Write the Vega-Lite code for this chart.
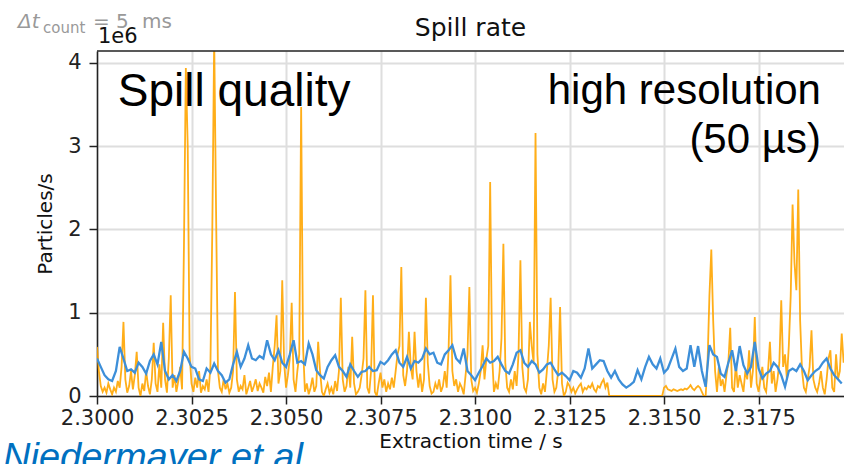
{
"$schema":"https://vega.github.io/schema/vega-lite/v6.json",
"width":747,"height":345,
"autosize":{"type":"none"},
"padding":{"left":97,"top":51,"right":0,"bottom":68},
"background":"white",
"config":{"view":{"stroke":null},"font":"DejaVu Sans","axis":{"labelFont":"DejaVu Sans","titleFont":"DejaVu Sans"}},
"datasets":{
"orange":[
{"t":2.30000,"v":0.59},{"t":2.30005,"v":0.3},{"t":2.30010,"v":0.12},{"t":2.30015,"v":0.05},{"t":2.30020,"v":0.1},{"t":2.30025,"v":0.04},{"t":2.30030,"v":0.15},{"t":2.30035,"v":0.08},{"t":2.30040,"v":0.02},{"t":2.30045,"v":0.1},
{"t":2.30050,"v":0.05},{"t":2.30055,"v":0.18},{"t":2.30060,"v":0.1},{"t":2.30065,"v":0.35},{"t":2.30070,"v":0.89},{"t":2.30075,"v":0.2},{"t":2.30080,"v":0.04},{"t":2.30085,"v":0.12},{"t":2.30090,"v":0.3},{"t":2.30095,"v":0.08},
{"t":2.30100,"v":0.25},{"t":2.30105,"v":0.53},{"t":2.30110,"v":0.1},{"t":2.30115,"v":0.0},{"t":2.30120,"v":0.15},{"t":2.30125,"v":0.06},{"t":2.30130,"v":0.3},{"t":2.30135,"v":0.12},{"t":2.30140,"v":0.02},{"t":2.30145,"v":0.2},
{"t":2.30150,"v":0.64},{"t":2.30155,"v":0.15},{"t":2.30160,"v":0.05},{"t":2.30165,"v":0.38},{"t":2.30170,"v":0.1},{"t":2.30175,"v":0.88},{"t":2.30180,"v":0.2},{"t":2.30185,"v":0.04},{"t":2.30190,"v":0.45},{"t":2.30195,"v":1.21},
{"t":2.30200,"v":0.1},{"t":2.30205,"v":0.25},{"t":2.30210,"v":0.05},{"t":2.30215,"v":0.18},{"t":2.30220,"v":0.35},{"t":2.30225,"v":0.08},{"t":2.30230,"v":1.8},{"t":2.30235,"v":3.94},{"t":2.30240,"v":3.0},{"t":2.30245,"v":0.5},
{"t":2.30250,"v":0.15},{"t":2.30255,"v":0.05},{"t":2.30260,"v":0.22},{"t":2.30265,"v":0.1},{"t":2.30270,"v":0.3},{"t":2.30275,"v":0.04},{"t":2.30280,"v":0.12},{"t":2.30285,"v":0.08},{"t":2.30290,"v":0.2},{"t":2.30295,"v":0.05},
{"t":2.30300,"v":0.35},{"t":2.30305,"v":2.0},{"t":2.30310,"v":4.3},{"t":2.30315,"v":2.2},{"t":2.30320,"v":0.3},{"t":2.30325,"v":0.1},{"t":2.30330,"v":0.05},{"t":2.30335,"v":0.2},{"t":2.30340,"v":0.08},{"t":2.30345,"v":0.15},
{"t":2.30350,"v":0.04},{"t":2.30355,"v":0.1},{"t":2.30360,"v":0.3},{"t":2.30365,"v":1.25},{"t":2.30370,"v":0.2},{"t":2.30375,"v":0.05},{"t":2.30380,"v":0.12},{"t":2.30385,"v":0.08},{"t":2.30390,"v":0.25},{"t":2.30395,"v":0.02},
{"t":2.30400,"v":0.1},{"t":2.30405,"v":0.18},{"t":2.30410,"v":0.05},{"t":2.30415,"v":0.12},{"t":2.30420,"v":0.2},{"t":2.30425,"v":0.06},{"t":2.30430,"v":0.15},{"t":2.30435,"v":0.1},{"t":2.30440,"v":0.04},{"t":2.30445,"v":0.23},
{"t":2.30450,"v":0.12},{"t":2.30455,"v":0.28},{"t":2.30460,"v":0.05},{"t":2.30465,"v":0.35},{"t":2.30470,"v":0.6},{"t":2.30475,"v":0.97},{"t":2.30480,"v":0.15},{"t":2.30485,"v":0.3},{"t":2.30490,"v":1.39},{"t":2.30495,"v":0.4},
{"t":2.30500,"v":0.1},{"t":2.30505,"v":0.25},{"t":2.30510,"v":0.45},{"t":2.30515,"v":1.12},{"t":2.30520,"v":0.2},{"t":2.30525,"v":0.05},{"t":2.30530,"v":0.3},{"t":2.30535,"v":0.5},{"t":2.30540,"v":3.47},{"t":2.30545,"v":0.6},
{"t":2.30550,"v":0.05},{"t":2.30555,"v":0.15},{"t":2.30560,"v":0.02},{"t":2.30565,"v":0.1},{"t":2.30570,"v":0.22},{"t":2.30575,"v":0.05},{"t":2.30580,"v":0.12},{"t":2.30585,"v":0.65},{"t":2.30590,"v":0.3},{"t":2.30595,"v":0.05},
{"t":2.30600,"v":0.0},{"t":2.30605,"v":0.08},{"t":2.30610,"v":0.15},{"t":2.30615,"v":0.04},{"t":2.30620,"v":0.1},{"t":2.30625,"v":0.02},{"t":2.30630,"v":0.18},{"t":2.30635,"v":0.06},{"t":2.30640,"v":0.3},{"t":2.30645,"v":1.18},
{"t":2.30650,"v":0.2},{"t":2.30655,"v":0.05},{"t":2.30660,"v":0.12},{"t":2.30665,"v":0.35},{"t":2.30670,"v":0.1},{"t":2.30675,"v":0.71},{"t":2.30680,"v":0.15},{"t":2.30685,"v":0.02},{"t":2.30690,"v":0.05},{"t":2.30695,"v":0.1},
{"t":2.30700,"v":0.25},{"t":2.30705,"v":0.45},{"t":2.30710,"v":1.27},{"t":2.30715,"v":0.1},{"t":2.30720,"v":0.03},{"t":2.30725,"v":0.3},{"t":2.30730,"v":1.21},{"t":2.30735,"v":0.05},{"t":2.30740,"v":0.0},{"t":2.30745,"v":0.15},
{"t":2.30750,"v":0.28},{"t":2.30755,"v":0.1},{"t":2.30760,"v":0.2},{"t":2.30765,"v":0.05},{"t":2.30770,"v":0.15},{"t":2.30775,"v":0.08},{"t":2.30780,"v":0.22},{"t":2.30785,"v":0.1},{"t":2.30790,"v":0.3},{"t":2.30795,"v":0.5},
{"t":2.30800,"v":0.6},{"t":2.30805,"v":1.55},{"t":2.30810,"v":0.25},{"t":2.30815,"v":0.12},{"t":2.30820,"v":0.3},{"t":2.30825,"v":0.77},{"t":2.30830,"v":0.35},{"t":2.30835,"v":0.2},{"t":2.30840,"v":0.77},{"t":2.30845,"v":0.3},
{"t":2.30850,"v":0.1},{"t":2.30855,"v":0.27},{"t":2.30860,"v":0.05},{"t":2.30865,"v":0.2},{"t":2.30870,"v":1.18},{"t":2.30875,"v":0.4},{"t":2.30880,"v":0.12},{"t":2.30885,"v":0.03},{"t":2.30890,"v":0.05},{"t":2.30895,"v":0.15},
{"t":2.30900,"v":0.08},{"t":2.30905,"v":0.2},{"t":2.30910,"v":0.05},{"t":2.30915,"v":0.12},{"t":2.30920,"v":0.3},{"t":2.30925,"v":0.1},{"t":2.30930,"v":0.55},{"t":2.30935,"v":1.45},{"t":2.30940,"v":0.3},{"t":2.30945,"v":0.12},
{"t":2.30950,"v":0.2},{"t":2.30955,"v":0.05},{"t":2.30960,"v":0.15},{"t":2.30965,"v":0.1},{"t":2.30970,"v":0.02},{"t":2.30975,"v":0.25},{"t":2.30980,"v":0.5},{"t":2.30985,"v":1.31},{"t":2.30990,"v":0.2},{"t":2.30995,"v":0.06},
{"t":2.31000,"v":0.1},{"t":2.31005,"v":0.04},{"t":2.31010,"v":0.15},{"t":2.31015,"v":0.3},{"t":2.31020,"v":0.61},{"t":2.31025,"v":0.2},{"t":2.31030,"v":0.45},{"t":2.31035,"v":0.6},{"t":2.31040,"v":2.57},{"t":2.31045,"v":0.5},
{"t":2.31050,"v":0.05},{"t":2.31055,"v":0.15},{"t":2.31060,"v":0.08},{"t":2.31065,"v":0.3},{"t":2.31070,"v":0.7},{"t":2.31075,"v":1.83},{"t":2.31080,"v":0.4},{"t":2.31085,"v":0.1},{"t":2.31090,"v":0.05},{"t":2.31095,"v":0.2},
{"t":2.31100,"v":0.08},{"t":2.31105,"v":0.3},{"t":2.31110,"v":0.12},{"t":2.31115,"v":0.5},{"t":2.31120,"v":1.63},{"t":2.31125,"v":0.35},{"t":2.31130,"v":0.1},{"t":2.31135,"v":0.05},{"t":2.31140,"v":0.2},{"t":2.31145,"v":0.89},
{"t":2.31150,"v":0.6},{"t":2.31155,"v":0.4},{"t":2.31160,"v":3.16},{"t":2.31165,"v":0.5},{"t":2.31170,"v":0.1},{"t":2.31175,"v":0.02},{"t":2.31180,"v":0.15},{"t":2.31185,"v":0.05},{"t":2.31190,"v":0.3},{"t":2.31195,"v":0.6},
{"t":2.31200,"v":1.18},{"t":2.31205,"v":0.2},{"t":2.31210,"v":0.05},{"t":2.31215,"v":0.1},{"t":2.31220,"v":0.3},{"t":2.31225,"v":1.07},{"t":2.31230,"v":0.15},{"t":2.31235,"v":0.0},{"t":2.31240,"v":0.05},{"t":2.31245,"v":0.16},
{"t":2.31250,"v":0.12},{"t":2.31255,"v":0.05},{"t":2.31260,"v":0.1},{"t":2.31265,"v":0.03},{"t":2.31270,"v":0.08},{"t":2.31275,"v":0.12},{"t":2.31280,"v":0.15},{"t":2.31285,"v":0.05},{"t":2.31290,"v":0.1},{"t":2.31295,"v":0.08},
{"t":2.31300,"v":0.12},{"t":2.31305,"v":0.1},{"t":2.31310,"v":0.15},{"t":2.31315,"v":0.08},{"t":2.31320,"v":0.05},{"t":2.31325,"v":0.12},{"t":2.31330,"v":0.1},{"t":2.31335,"v":0.16},{"t":2.31340,"v":0.2},{"t":2.31345,"v":0.1},
{"t":2.31350,"v":0.16},{"t":2.31355,"v":0},{"t":2.31360,"v":0},{"t":2.31365,"v":0},{"t":2.31370,"v":0},{"t":2.31375,"v":0},{"t":2.31380,"v":0},{"t":2.31385,"v":0},{"t":2.31390,"v":0},{"t":2.31395,"v":0},
{"t":2.31400,"v":0},{"t":2.31405,"v":0},{"t":2.31410,"v":0},{"t":2.31415,"v":0},{"t":2.31420,"v":0},{"t":2.31425,"v":0},{"t":2.31430,"v":0},{"t":2.31435,"v":0},{"t":2.31440,"v":0},{"t":2.31445,"v":0},
{"t":2.31450,"v":0},{"t":2.31455,"v":0},{"t":2.31460,"v":0},{"t":2.31465,"v":0},{"t":2.31470,"v":0},{"t":2.31475,"v":0},{"t":2.31480,"v":0},{"t":2.31485,"v":0},{"t":2.31490,"v":0},{"t":2.31495,"v":0},
{"t":2.31500,"v":0.1},{"t":2.31505,"v":0.12},{"t":2.31510,"v":0.08},{"t":2.31515,"v":0.07},{"t":2.31520,"v":0.06},{"t":2.31525,"v":0.08},{"t":2.31530,"v":0.07},{"t":2.31535,"v":0.06},{"t":2.31540,"v":0.07},{"t":2.31545,"v":0.08},
{"t":2.31550,"v":0.07},{"t":2.31555,"v":0.09},{"t":2.31560,"v":0.08},{"t":2.31565,"v":0.1},{"t":2.31570,"v":0.13},{"t":2.31575,"v":0.09},{"t":2.31580,"v":0.07},{"t":2.31585,"v":0.1},{"t":2.31590,"v":0.12},{"t":2.31595,"v":0.1},
{"t":2.31600,"v":0.05},{"t":2.31605,"v":0},{"t":2.31610,"v":0},{"t":2.31615,"v":0.4},{"t":2.31620,"v":1.2},{"t":2.31625,"v":1.76},{"t":2.31630,"v":0.9},{"t":2.31635,"v":0.3},{"t":2.31640,"v":0.05},{"t":2.31645,"v":0.35},
{"t":2.31650,"v":0.12},{"t":2.31655,"v":0.2},{"t":2.31660,"v":0.05},{"t":2.31665,"v":0.25},{"t":2.31670,"v":0.4},{"t":2.31675,"v":0.82},{"t":2.31680,"v":0.1},{"t":2.31685,"v":0.05},{"t":2.31690,"v":0.39},{"t":2.31695,"v":0.1},
{"t":2.31700,"v":0.25},{"t":2.31705,"v":0.15},{"t":2.31710,"v":0.05},{"t":2.31715,"v":0.3},{"t":2.31720,"v":0.2},{"t":2.31725,"v":0.55},{"t":2.31730,"v":0.1},{"t":2.31735,"v":0.3},{"t":2.31740,"v":0.95},{"t":2.31745,"v":0.15},
{"t":2.31750,"v":0.05},{"t":2.31755,"v":0.2},{"t":2.31760,"v":0.35},{"t":2.31765,"v":0.1},{"t":2.31770,"v":0.05},{"t":2.31775,"v":0.3},{"t":2.31780,"v":0.65},{"t":2.31785,"v":0.15},{"t":2.31790,"v":0.3},{"t":2.31795,"v":0.05},
{"t":2.31800,"v":0.2},{"t":2.31805,"v":0.4},{"t":2.31810,"v":1.15},{"t":2.31815,"v":0.35},{"t":2.31820,"v":0.5},{"t":2.31825,"v":0.2},{"t":2.31830,"v":0.6},{"t":2.31835,"v":1.2},{"t":2.31840,"v":2.3},{"t":2.31845,"v":1.6},
{"t":2.31850,"v":1.27},{"t":2.31855,"v":2.48},{"t":2.31860,"v":0.9},{"t":2.31865,"v":0.3},{"t":2.31870,"v":0.1},{"t":2.31875,"v":0.05},{"t":2.31880,"v":0.2},{"t":2.31885,"v":0.35},{"t":2.31890,"v":0.79},{"t":2.31895,"v":0.2},
{"t":2.31900,"v":0.1},{"t":2.31905,"v":0.05},{"t":2.31910,"v":0.15},{"t":2.31915,"v":0.3},{"t":2.31920,"v":0.1},{"t":2.31925,"v":0.02},{"t":2.31930,"v":0.2},{"t":2.31935,"v":0.45},{"t":2.31940,"v":0.55},{"t":2.31945,"v":0.1},
{"t":2.31950,"v":0.05},{"t":2.31955,"v":0.5},{"t":2.31960,"v":0.2},{"t":2.31965,"v":0.3},{"t":2.31970,"v":0.75},{"t":2.31975,"v":0.4}
],
"blue":[
{"t":2.3000,"v":0.45},{"t":2.3001,"v":0.35},{"t":2.3002,"v":0.25},{"t":2.3003,"v":0.2},{"t":2.3004,"v":0.18},{"t":2.3005,"v":0.3},{"t":2.3006,"v":0.59},{"t":2.3007,"v":0.45},{"t":2.3008,"v":0.3},{"t":2.3009,"v":0.32},
{"t":2.3010,"v":0.28},{"t":2.3011,"v":0.4},{"t":2.3012,"v":0.35},{"t":2.3013,"v":0.27},{"t":2.3014,"v":0.42},{"t":2.3015,"v":0.5},{"t":2.3016,"v":0.38},{"t":2.3017,"v":0.65},{"t":2.3018,"v":0.3},{"t":2.3019,"v":0.2},
{"t":2.3020,"v":0.25},{"t":2.3021,"v":0.18},{"t":2.3022,"v":0.3},{"t":2.3023,"v":0.53},{"t":2.3024,"v":0.45},{"t":2.3025,"v":0.35},{"t":2.3026,"v":0.33},{"t":2.3027,"v":0.2},{"t":2.3028,"v":0.18},{"t":2.3029,"v":0.33},
{"t":2.3030,"v":0.28},{"t":2.3031,"v":0.39},{"t":2.3032,"v":0.3},{"t":2.3033,"v":0.25},{"t":2.3034,"v":0.16},{"t":2.3035,"v":0.2},{"t":2.3036,"v":0.38},{"t":2.3037,"v":0.53},{"t":2.3038,"v":0.35},{"t":2.3039,"v":0.45},
{"t":2.3040,"v":0.61},{"t":2.3041,"v":0.45},{"t":2.3042,"v":0.43},{"t":2.3043,"v":0.48},{"t":2.3044,"v":0.45},{"t":2.3045,"v":0.67},{"t":2.3046,"v":0.5},{"t":2.3047,"v":0.43},{"t":2.3048,"v":0.55},{"t":2.3049,"v":0.4},
{"t":2.3050,"v":0.35},{"t":2.3051,"v":0.5},{"t":2.3052,"v":0.67},{"t":2.3053,"v":0.4},{"t":2.3054,"v":0.42},{"t":2.3055,"v":0.38},{"t":2.3056,"v":0.63},{"t":2.3057,"v":0.5},{"t":2.3058,"v":0.31},{"t":2.3059,"v":0.25},
{"t":2.3060,"v":0.21},{"t":2.3061,"v":0.35},{"t":2.3062,"v":0.43},{"t":2.3063,"v":0.49},{"t":2.3064,"v":0.35},{"t":2.3065,"v":0.3},{"t":2.3066,"v":0.23},{"t":2.3067,"v":0.38},{"t":2.3068,"v":0.3},{"t":2.3069,"v":0.23},
{"t":2.3070,"v":0.29},{"t":2.3071,"v":0.3},{"t":2.3072,"v":0.35},{"t":2.3073,"v":0.3},{"t":2.3074,"v":0.31},{"t":2.3075,"v":0.41},{"t":2.3076,"v":0.38},{"t":2.3077,"v":0.43},{"t":2.3078,"v":0.5},{"t":2.3079,"v":0.55},
{"t":2.3080,"v":0.4},{"t":2.3081,"v":0.35},{"t":2.3082,"v":0.47},{"t":2.3083,"v":0.33},{"t":2.3084,"v":0.42},{"t":2.3085,"v":0.4},{"t":2.3086,"v":0.45},{"t":2.3087,"v":0.57},{"t":2.3088,"v":0.5},{"t":2.3089,"v":0.52},
{"t":2.3090,"v":0.4},{"t":2.3091,"v":0.38},{"t":2.3092,"v":0.5},{"t":2.3093,"v":0.55},{"t":2.3094,"v":0.61},{"t":2.3095,"v":0.45},{"t":2.3096,"v":0.4},{"t":2.3097,"v":0.57},{"t":2.3098,"v":0.3},{"t":2.3099,"v":0.25},
{"t":2.3100,"v":0.19},{"t":2.3101,"v":0.28},{"t":2.3102,"v":0.36},{"t":2.3103,"v":0.45},{"t":2.3104,"v":0.4},{"t":2.3105,"v":0.42},{"t":2.3106,"v":0.47},{"t":2.3107,"v":0.38},{"t":2.3108,"v":0.3},{"t":2.3109,"v":0.27},
{"t":2.3110,"v":0.38},{"t":2.3111,"v":0.52},{"t":2.3112,"v":0.55},{"t":2.3113,"v":0.4},{"t":2.3114,"v":0.35},{"t":2.3115,"v":0.42},{"t":2.3116,"v":0.38},{"t":2.3117,"v":0.28},{"t":2.3118,"v":0.32},{"t":2.3119,"v":0.38},
{"t":2.3120,"v":0.4},{"t":2.3121,"v":0.32},{"t":2.3122,"v":0.25},{"t":2.3123,"v":0.28},{"t":2.3124,"v":0.24},{"t":2.3125,"v":0.19},{"t":2.3126,"v":0.3},{"t":2.3127,"v":0.28},{"t":2.3128,"v":0.22},{"t":2.3129,"v":0.33},
{"t":2.3130,"v":0.57},{"t":2.3131,"v":0.33},{"t":2.3132,"v":0.38},{"t":2.3133,"v":0.43},{"t":2.3134,"v":0.42},{"t":2.3135,"v":0.3},{"t":2.3136,"v":0.22},{"t":2.3137,"v":0.3},{"t":2.3138,"v":0.2},{"t":2.3139,"v":0.14},
{"t":2.3140,"v":0.1},{"t":2.3141,"v":0.13},{"t":2.3142,"v":0.17},{"t":2.3143,"v":0.31},{"t":2.3144,"v":0.2},{"t":2.3145,"v":0.35},{"t":2.3146,"v":0.47},{"t":2.3147,"v":0.38},{"t":2.3148,"v":0.33},{"t":2.3149,"v":0.45},
{"t":2.3150,"v":0.28},{"t":2.3151,"v":0.33},{"t":2.3152,"v":0.45},{"t":2.3153,"v":0.57},{"t":2.3154,"v":0.35},{"t":2.3155,"v":0.3},{"t":2.3156,"v":0.33},{"t":2.3157,"v":0.61},{"t":2.3158,"v":0.35},{"t":2.3159,"v":0.6},
{"t":2.3160,"v":0.3},{"t":2.3161,"v":0.11},{"t":2.3162,"v":0.61},{"t":2.3163,"v":0.5},{"t":2.3164,"v":0.47},{"t":2.3165,"v":0.27},{"t":2.3166,"v":0.23},{"t":2.3167,"v":0.4},{"t":2.3168,"v":0.55},{"t":2.3169,"v":0.3},
{"t":2.3170,"v":0.6},{"t":2.3171,"v":0.37},{"t":2.3172,"v":0.27},{"t":2.3173,"v":0.35},{"t":2.3174,"v":0.65},{"t":2.3175,"v":0.33},{"t":2.3176,"v":0.21},{"t":2.3177,"v":0.27},{"t":2.3178,"v":0.3},{"t":2.3179,"v":0.4},
{"t":2.3180,"v":0.35},{"t":2.3181,"v":0.25},{"t":2.3182,"v":0.11},{"t":2.3183,"v":0.3},{"t":2.3184,"v":0.33},{"t":2.3185,"v":0.3},{"t":2.3186,"v":0.38},{"t":2.3187,"v":0.3},{"t":2.3188,"v":0.19},{"t":2.3189,"v":0.25},
{"t":2.3190,"v":0.3},{"t":2.3191,"v":0.33},{"t":2.3192,"v":0.4},{"t":2.3193,"v":0.45},{"t":2.3194,"v":0.33},{"t":2.3195,"v":0.25},{"t":2.3196,"v":0.2},{"t":2.3197,"v":0.15}
]},
"layer":[
{"data":{"name":"orange"},
 "mark":{"type":"line","color":"#ffa500","strokeWidth":1.8,"opacity":0.9,"clip":true},
 "encoding":{
  "x":{"field":"t","type":"quantitative","scale":{"domain":[2.3,2.31976],"nice":false,"zero":false},
   "axis":{"values":[2.3,2.3025,2.305,2.3075,2.31,2.3125,2.315,2.3175],"format":".4f","title":"Extraction time / s","titleFontSize":20,"titleFontWeight":"normal","titleColor":"#111","titlePadding":3,"labelFontSize":21,"labelColor":"#222","labelPadding":3,"labelFlush":false,"labelOverlap":false,"tickSize":8,"tickWidth":1.5,"tickColor":"#222","domainColor":"#222","domainWidth":1.5,"grid":true,"gridColor":"#dedede","gridWidth":2}},
  "y":{"field":"v","type":"quantitative","scale":{"domain":[0,4.144],"nice":false},
   "axis":{"values":[0,1,2,3,4],"format":"d","title":"Particles/s","titleFontSize":20,"titleFontWeight":"normal","titleColor":"#111","titlePadding":12,"labelFontSize":21,"labelColor":"#222","labelPadding":8,"tickSize":8,"tickWidth":1.5,"tickColor":"#222","domainColor":"#222","domainWidth":1.5,"grid":true,"gridColor":"#dedede","gridWidth":2}}}},
{"data":{"name":"blue"},
 "mark":{"type":"line","color":"#3d8fd9","strokeWidth":2.3,"clip":true},
 "encoding":{"x":{"field":"t","type":"quantitative"},"y":{"field":"v","type":"quantitative"}}},
{"data":{"values":[{}]},"mark":{"type":"rule","color":"#222","strokeWidth":1.5},"encoding":{"y":{"datum":4.144,"type":"quantitative"}}},
{"data":{"values":[{}]},"mark":{"type":"text","text":"Spill rate","font":"DejaVu Sans","fontSize":25,"align":"center","baseline":"alphabetic","color":"#111","dy":-15},"encoding":{"x":{"datum":2.30988,"type":"quantitative"},"y":{"datum":4.144,"type":"quantitative"}}},
{"data":{"values":[{}]},"mark":{"type":"text","text":"Spill quality","font":"Liberation Sans","fontSize":46,"align":"left","baseline":"alphabetic","color":"#000"},"encoding":{"x":{"datum":2.30055,"type":"quantitative"},"y":{"datum":3.48,"type":"quantitative"}}},
{"data":{"values":[{}]},"mark":{"type":"text","text":"high resolution","font":"Liberation Sans","fontSize":42,"align":"right","baseline":"alphabetic","color":"#000"},"encoding":{"x":{"datum":2.31915,"type":"quantitative"},"y":{"datum":3.51,"type":"quantitative"}}},
{"data":{"values":[{}]},"mark":{"type":"text","text":"(50 µs)","font":"Liberation Sans","fontSize":42,"align":"right","baseline":"alphabetic","color":"#000"},"encoding":{"x":{"datum":2.31915,"type":"quantitative"},"y":{"datum":2.92,"type":"quantitative"}}},
{"data":{"values":[{}]},"mark":{"type":"text","text":"1e6","font":"DejaVu Sans","fontSize":21,"align":"left","baseline":"alphabetic","color":"#111","dx":1,"dy":-8},"encoding":{"x":{"datum":2.3,"type":"quantitative"},"y":{"datum":4.144,"type":"quantitative"}}},
{"data":{"values":[{}]},"mark":{"type":"text","text":"Δt","font":"DejaVu Sans","fontSize":20,"fontStyle":"italic","align":"left","baseline":"alphabetic","color":"#999","dx":-79,"dy":-23},"encoding":{"x":{"datum":2.3,"type":"quantitative"},"y":{"datum":4.144,"type":"quantitative"}}},
{"data":{"values":[{}]},"mark":{"type":"text","text":"count","font":"DejaVu Sans","fontSize":15,"align":"left","baseline":"alphabetic","color":"#999","dx":-54,"dy":-18},"encoding":{"x":{"datum":2.3,"type":"quantitative"},"y":{"datum":4.144,"type":"quantitative"}}},
{"data":{"values":[{}]},"mark":{"type":"text","text":"= 5","font":"DejaVu Sans","fontSize":20,"align":"left","baseline":"alphabetic","color":"#999","dx":-4,"dy":-23},"encoding":{"x":{"datum":2.3,"type":"quantitative"},"y":{"datum":4.144,"type":"quantitative"}}},
{"data":{"values":[{}]},"mark":{"type":"text","text":"ms","font":"DejaVu Sans","fontSize":20,"align":"left","baseline":"alphabetic","color":"#999","dx":45,"dy":-23},"encoding":{"x":{"datum":2.3,"type":"quantitative"},"y":{"datum":4.144,"type":"quantitative"}}},
{"data":{"values":[{}]},"mark":{"type":"text","text":"Niedermayer et al","font":"Liberation Sans","fontSize":38,"fontStyle":"italic","align":"left","baseline":"alphabetic","color":"#0070c0","dx":-94,"dy":74},"encoding":{"x":{"datum":2.3,"type":"quantitative"},"y":{"datum":0,"type":"quantitative"}}}
]
}
